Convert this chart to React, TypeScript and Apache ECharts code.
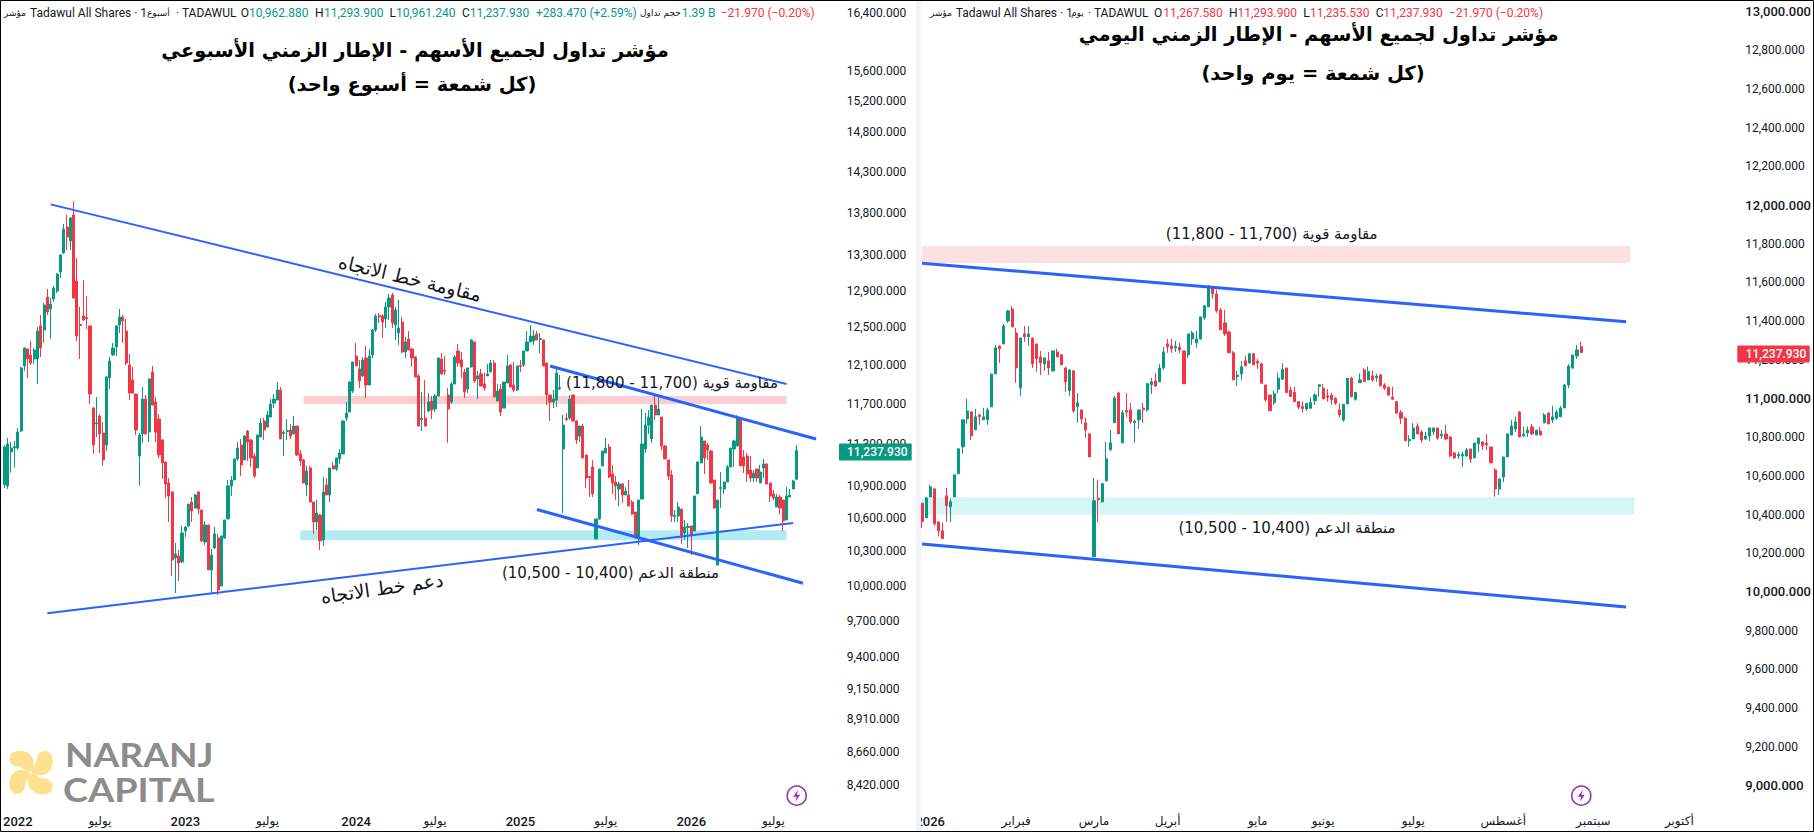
import React, { useEffect, useRef } from "react";
import * as echarts from "echarts";

const GREEN = "#089981";
const RED = "#f23645";
const BLUE = "#2962ff";
const INK = "#131722";
const LATIN = 'Roboto, "DejaVu Sans", sans-serif';
const ARABIC = '"DejaVu Sans", Roboto, sans-serif';

// Candles are [open, close, low, high]
const weeklyCandles: number[][] = [
[10910,11272,10880,11290],[10900,11302,10871,11361],[11224,11262,11025,11321],[11265,11275,11075,11331],[11262,11419,11243,11459],
[11429,12069,11420,12080],[12090,12278,12038,12285],[12268,12162,11965,12275],[12205,12120,12100,12353],[12162,12257,12110,12280],
[12162,12460,11903,12503],[12515,12278,12183,12633],[12471,12743,12332,12765],[12831,12666,12633,12920],[12699,12754,12375,12820],
[12809,12931,12776,12954],[12898,13088,12875,13100],[13111,13305,13044,13317],[13328,13608,13320,13667],[13631,13514,13363,13773],
[13467,13738,13363,13750],[13773,12820,12815,13941],[13010,12407,12353,13270],[12530,12520,12162,12721],[12623,12579,12570,13021],
[12605,12595,12482,12842],[12515,11800,11698,12520],[11658,11292,11205,11668],[11500,11510,11370,11770],[11578,11400,11214,11598],
[11410,11147,11090,11518],[11292,11975,11233,11985],[11965,12142,11851,12183],[12205,12278,12194,12332],[12289,12515,12194,12525],
[12525,12611,12439,12699],[12611,12568,12332,12633],[12460,12120,12100,12590],[12100,11810,11739,12215],[11944,11810,11805,12080],
[11800,11439,11390,11805],[11185,11390,10900,11410],[11400,11749,11312,11872],[11749,11400,11395,11790],[11419,11955,11321,11960],
[12027,11688,11685,12090],[11719,11419,11321,11770],[11548,11195,11166,11598],[11341,11118,10965,11350],[11128,10918,10787,11130],
[10928,10805,10566,10975],[10843,10224,10084,10852],[10242,10277,9937,10376],[10260,10198,10040,10313],[10207,10466,10198,10530],
[10484,10520,10430,10530],[10530,10730,10520,10730],[10749,10666,10566,10796],[10693,10815,10693,10825],[10843,10684,10638,10852],
[10675,10394,10385,10675],[10385,10538,10358,10575],[10538,10137,10137,10538],[10137,10268,9930,10322],[10331,10457,10322,10520],
[10421,9963,9920,10457],[9997,10439,9997,10439],[10421,10584,10412,10584],[10593,10900,10593,10956],[10900,10956,10805,10994],
[10956,11157,10956,11157],[11157,11262,11138,11321],[11292,11099,10994,11351],[11147,11380,11147,11390],[11429,11321,11138,11439],
[11341,11166,11080,11351],[11185,10994,10975,11214],[11070,11390,11070,11390],[11370,11508,11370,11558],[11528,11439,11341,11558],
[11468,11588,11468,11628],[11568,11698,11568,11749],[11708,11749,11658,11800],[11739,11841,11739,11923],[11841,11351,11351,11872],
[11405,11415,11185,11439],[11424,11434,11341,11548],[11439,11380,11351,11498],[11400,11478,11400,11578],[11478,11195,11185,11478],
[11205,11138,11090,11243],[11147,10928,10928,11157],[10909,11041,10805,11090],[11070,10749,10749,11090],[10749,10566,10457,10749],
[10566,10648,10493,10768],[10629,10394,10313,10638],[10403,10843,10349,10984],[10909,10815,10815,10975],[10815,11070,10749,11070],
[11090,11060,11060,11128],[11060,11166,11041,11166],[11157,11214,11109,11253],[11205,11528,11205,11538],[11558,11608,11528,11719],
[11618,11923,11618,11933],[11831,12131,11810,12131],[12194,12090,12090,12332],[12059,11934,11861,12152],[11986,12152,11975,12183],
[12173,11892,11760,12300],[11892,12194,11892,12268],[12205,12471,12173,12482],[12471,12623,12450,12644],[12628,12618,12547,12655],
[12623,12558,12386,12644],[12590,12721,12493,12776],[12721,12820,12579,12865],[12854,12547,12493,12876],[12525,12688,12364,12721],
[12439,12493,12311,12798],[12558,12236,12226,12611],[12236,12343,12173,12397],[12375,12257,12257,12460],[12268,12173,12080,12278],
[12183,11975,11975,12194],[11986,11478,11478,12007],[11543,11553,11429,11820],[11558,11478,11478,11944],[11628,11719,11618,11810],
[11729,11638,11548,11780],[11648,11780,11618,11800],[11780,12173,11780,12173],[12162,12007,11996,12226],[12043,12033,11996,12194],
[11790,11648,11312,11861],[11719,11903,11698,11923],[11903,12183,11903,12205],[12247,12120,12080,12321],[12152,12080,11965,12236],
[12027,11820,11760,12059],[11851,12069,11810,12069],[12080,12364,12069,12375],[12343,11934,11913,12343],[11955,11986,11749,12038],
[12007,11882,11882,12059],[11903,11861,11831,12017],[11986,12007,11986,12110],[12027,12120,12027,12152],[12120,11770,11770,12152],
[11729,11831,11729,11903],[11851,11618,11578,11903],[11658,11923,11658,11923],[11913,12090,11913,12205],[12100,11872,11872,12110],
[11892,11841,11820,12131],[11841,12090,11831,12090],[12095,12085,12027,12152],[12100,12247,12080,12247],[12247,12343,12247,12460],
[12343,12407,12343,12525],[12353,12407,12311,12471],[12428,12364,12364,12460],[12370,12380,12226,12439],[12364,12090,12090,12364],
[12120,11790,11688,12120],[11790,11719,11528,11790],[11719,11749,11658,11841],[11739,12017,11668,12069],[11856,11866,11841,11996],
[11253,11488,10648,11588],[11553,11543,11528,11608],[11558,11749,11538,11790],[11790,11528,11528,11790],[11528,11341,11302,11538],
[11380,11478,11321,11478],[11478,11166,11166,11498],[11195,10975,10881,11195],[10990,10980,10796,10990],[11080,10825,10796,11147],
[10412,10593,10412,10593],[10593,11060,10584,11060],[11090,11233,11090,11233],[11214,11262,11214,11361],[11272,10984,10975,11302],
[11013,10928,10825,11099],[10937,10900,10768,10994],[10871,10918,10712,10937],[10918,10815,10740,10928],[10815,10852,10815,10890],
[10815,10712,10712,10956],[10749,10638,10629,10768],[10657,10421,10412,10657],[10421,10768,10358,10768],[10777,11302,10777,11648],
[11253,11488,11214,11608],[11488,11568,11400,11638],[11351,11688,11312,11688],[11688,11588,11538,11780],[11588,11648,11588,11770],
[11568,11282,11243,11568],[11282,11157,11157,11292],[11147,10994,10956,11147],[11003,10620,10566,11051],[10615,10625,10566,10675],
[10620,10703,10566,10749],[10684,10430,10367,10684],[10466,10520,10403,10584],[10515,10525,10331,10556],[10530,10448,10269,10530],
[10484,10805,10484,10805],[10825,11128,10825,11128],[11118,11370,11118,11478],[11331,11166,11013,11331],[11292,11243,11147,11312],
[11233,10928,10918,11243],[10956,10693,10693,10956],[10180,10768,10180,10768],[10876,10886,10693,11032],[10871,10937,10825,10937],
[10937,11080,10937,11099],[11080,11262,11080,11262],[11253,11331,11080,11341],[11282,11568,11282,11588],[11558,11090,11090,11558],
[11176,11090,11022,11243],[11185,11013,10937,11214],[11051,10975,10937,11185],[10975,11022,10937,11051],[11060,10975,10937,11060],
[10928,11032,10928,11099],[11070,11109,10975,11157],[11109,10918,10918,11109],[10928,10805,10749,10928],[10825,10787,10768,10862],
[10703,10796,10703,10825],[10796,10693,10638,10815],[10768,10575,10484,10768],[10584,10805,10584,10890],[10796,10815,10796,10871],
[10871,10947,10871,10956],[10962.88,11237.93,10961.24,11293.9],
];

const dailyCandles: number[][] = [
[10459,10364,10330,10459],[10383,10486,10383,10490],[10491,10543,10491,10554],[10533,10352,10342,10533],[10362,10316,10287,10362],
[10316,10276,10276,10359],[10497,10445,10362,10538],[10440,10466,10362,10481],[10491,10605,10491,10605],[10611,10740,10611,10740],
[10750,10890,10714,10890],[10895,10936,10869,10998],[10931,10807,10786,10931],[10838,10905,10838,10946],[10915,10905,10864,10921],
[10890,10905,10890,10952],[10890,10941,10864,10952],[10957,11127,10957,11127],[11127,11262,11127,11277],[11272,11257,11184,11272],
[11282,11375,11282,11386],[11401,11453,11391,11458],[11463,11370,11370,11479],[11339,11158,11081,11365],[11055,11313,11014,11313],
[11334,11319,11293,11375],[11319,11334,11272,11375],[11313,11179,11158,11313],[11282,11205,11138,11282],[11215,11184,11122,11246],
[11179,11210,11143,11210],[11195,11158,11122,11241],[11143,11246,11138,11246],[11241,11215,11215,11257],[11226,11174,11174,11226],
[11158,11086,11034,11164],[11040,11148,11014,11148],[11143,10936,10926,11143],[10957,10977,10874,11029],[10941,10895,10869,10941],
[10874,10838,10797,10900],[10817,10698,10698,10822],[10182,10471,10182,10590],[10484,10476,10362,10580],[10466,10559,10461,10564],
[10574,10688,10574,10776],[10735,10771,10729,10838],[10874,11003,10874,11014],[11029,10817,10817,11034],[10771,10926,10771,10941],
[10938,10930,10905,11029],[10941,10879,10869,10977],[10875,10883,10771,10890],[10890,10941,10843,10941],[10950,10942,10874,10977],
[10941,11076,10931,11081],[11071,11086,11024,11107],[11091,11065,11060,11133],[11086,11158,11086,11179],[11158,11241,11148,11267],
[11282,11267,11236,11308],[11272,11257,11236,11308],[11261,11269,11241,11298],[11265,11251,11234,11288],[11246,11076,11076,11246],
[11226,11334,11210,11334],[11308,11339,11277,11350],[11288,11308,11262,11350],[11308,11422,11303,11422],[11417,11479,11407,11484],
[11474,11582,11474,11587],[11577,11541,11515,11577],[11541,11453,11443,11562],[11458,11355,11355,11469],[11391,11334,11324,11458],
[11344,11236,11236,11350],[11236,11096,11096,11246],[11113,11121,11065,11143],[11127,11164,11096,11195],[11195,11169,11169,11220],
[11184,11231,11179,11236],[11231,11174,11174,11236],[11191,11183,11153,11205],[11179,11079,11079,11186],[11070,10993,10984,11070],
[11018,10937,10937,11018],[10979,11024,10967,11041],[11048,11105,11027,11134],[11100,11151,11096,11182],[11158,11030,11030,11158],
[11044,11010,11010,11061],[11032,10984,10984,11061],[10984,10955,10944,10984],[10958,10948,10927,10984],[10946,10975,10937,10975],
[10949,10979,10949,11006],[10989,11018,10967,11027],[11063,11071,11010,11075],[11053,10998,10998,11075],[11014,11006,10984,11048],
[11018,10993,10967,11030],[11001,10975,10967,11006],[10941,10915,10903,10975],[10889,10970,10880,10970],[10972,11105,10972,11105],
[11105,11010,11006,11113],[10996,11032,10989,11032],[11082,11096,11082,11130],[11148,11087,11087,11156],[11096,11139,11096,11165],
[11117,11096,11087,11144],[11107,11115,11087,11127],[11122,11067,11061,11125],[11070,11053,11044,11079],[11058,11018,11013,11061],
[11006,10996,10996,11061],[10984,10924,10924,10984],[10927,10898,10868,10941],[10898,10782,10782,10906],[10781,10789,10751,10811],
[10791,10848,10791,10872],[10858,10817,10817,10872],[10827,10786,10772,10837],[10791,10806,10786,10827],[10806,10848,10780,10848],
[10829,10848,10811,10848],[10848,10796,10786,10848],[10807,10815,10791,10837],[10817,10791,10786,10863],[10801,10703,10698,10806],
[10718,10693,10687,10725],[10703,10711,10687,10724],[10703,10711,10646,10724],[10703,10734,10698,10744],[10739,10687,10667,10739],
[10693,10770,10693,10770],[10765,10796,10724,10796],[10775,10755,10734,10780],[10769,10761,10734,10817],[10749,10667,10667,10749],
[10630,10532,10493,10641],[10532,10584,10501,10584],[10594,10698,10568,10698],[10698,10817,10698,10817],[10811,10858,10811,10889],
[10842,10879,10827,10906],[10930,10801,10801,10935],[10807,10815,10801,10855],[10822,10837,10801,10855],[10853,10817,10811,10868],
[10811,10837,10811,10837],[10832,10811,10811,10853],[10874,10915,10874,10925],[10925,10868,10868,10930],[10889,10905,10874,10962],
[10899,10930,10889,10941],[10905,10951,10905,10962],[10951,11070,10951,11075],[11070,11168,11054,11178],[11158,11225,11153,11225],
[11220,11251,11205,11277],[11267.58,11237.93,11235.53,11293.9],
];

const weeklyPriceTicks = [16400,15600,15200,14800,14300,13800,13300,12900,12500,12100,11700,11300,10900,10600,10300,10000,9700,9400,9150,8910,8660,8420];
const dailyPriceTicks = [13000,12800,12600,12400,12200,12000,11800,11600,11400,11200,11000,10800,10600,10400,10200,10000,9800,9600,9400,9200,9000];
const dailyMajorTicks = [13000,12000,11000,10000,9000];

const weeklyTimeLabels: [number, string][] = [[4,"2022"],[29,"يوليو"],[55,"2023"],[80,"يوليو"],[107,"2024"],[131,"يوليو"],[157,"2025"],[183,"يوليو"],[209,"2026"],[234,"يوليو"]];
const dailyTimeLabels: [number, string][] = [[2,"2026"],[23,"فبراير"],[42,"مارس"],[60,"أبريل"],[82,"مايو"],[98,"يونيو"],[120,"يوليو"],[142,"أغسطس"],[164,"سبتمبر"],[185,"أكتوبر"]];

// Trendlines [index, price, index, price]
const weeklyTrendlines: { from: number[]; to: number[]; width: number }[] = [
  { from: [14, 13900], to: [238, 11903], width: 2 },
  { from: [13, 9765], to: [240, 10556], width: 2 },
  { from: [166, 12089], to: [247, 11350], width: 3 },
  { from: [162, 10680], to: [243, 10021], width: 3 },
];
const dailyTrendlines: { from: number[]; to: number[]; width: number }[] = [
  { from: [0, 11699], to: [172, 11397], width: 3 },
  { from: [0, 10248], to: [172, 9922], width: 3 },
];
const weeklyZones = [
  { from: [91, 11780], to: [238, 11700], color: "#fccdd2" },
  { from: [90, 10490], to: [238, 10400], color: "#b2ebf2" },
];
const dailyZones = [
  { from: [0, 11790], to: [173, 11700], color: "#fde0e4" },
  { from: [0, 10490], to: [174, 10400], color: "#d6f5f7" },
];

const WEEK_BAND = 3.297;
const WEEK_SLOTS = 255;
const DAY_BAND = 4.095;
const DAY_SLOTS = 200;
const PLOT_TOP = 1;
const PLOT_H = 807;

const fmt = (v: number) => v.toLocaleString("en-US", { minimumFractionDigits: 3, maximumFractionDigits: 3 });
const slots = (n: number, labels: [number, string][]) => {
  const m = new Map(labels);
  return Array.from({ length: n }, (_, i) => m.get(i) ?? "");
};

function xAxis(gridIndex: number, data: string[]) {
  return {
    type: "category",
    gridIndex,
    data,
    boundaryGap: true,
    axisLine: { show: false },
    axisTick: { show: false },
    splitLine: { show: false },
    axisLabel: {
      margin: 7,
      interval: (_i: number, v: string) => v !== "",
      formatter: (v: string) => (/^\d+$/.test(v) ? `{year|${v}}` : v),
      color: INK,
      fontSize: 12,
      fontFamily: ARABIC,
      rich: { year: { fontSize: 13, fontWeight: 500, fontFamily: LATIN, color: INK } },
    },
  };
}

function candleSeries(xi: number, data: number[][], map: (v: number) => number, lines: typeof weeklyTrendlines, zones: typeof weeklyZones) {
  return {
    type: "candlestick",
    xAxisIndex: xi,
    yAxisIndex: xi,
    barWidth: 2.6,
    silent: true,
    data: data.map((c) => c.map(map)),
    itemStyle: { color: GREEN, color0: RED, borderColor: GREEN, borderColor0: RED, borderWidth: 1 },
    markLine: {
      silent: true,
      symbol: ["none", "none"],
      label: { show: false },
      data: lines.map((l) => [
        { coord: [l.from[0], map(l.from[1])], lineStyle: { color: BLUE, width: l.width, type: "solid" } },
        { coord: [l.to[0], map(l.to[1])] },
      ]),
    },
    markArea: {
      silent: true,
      label: { show: false },
      data: zones.map((z) => [
        { coord: [z.from[0], map(z.from[1])], itemStyle: { color: z.color, opacity: 1 } },
        { coord: [z.to[0], map(z.to[1])] },
      ]),
    },
  };
}

const label = (text: string, x: number, y: number, fill: string, font: string, align = "left", rotation = 0) => ({
  type: "text",
  x,
  y,
  rotation,
  z: 100,
  silent: true,
  style: { text, fill, font, align, verticalAlign: "middle" },
});

const F12 = `12px ${LATIN}`;
const F9 = `9px ${ARABIC}`;

function headerWeekly() {
  return [
    label("مؤشر", 4, 13, INK, F9),
    label("Tadawul All Shares · 1", 30, 13, INK, F12),
    label("أسبوع", 147, 13, INK, F9),
    label("· TADAWUL", 176, 13, INK, F12),
    label("O", 240.7, 13, INK, F12), label("10,962.880", 249, 13, GREEN, F12),
    label("H", 315, 13, INK, F12), label("11,293.900", 324, 13, GREEN, F12),
    label("L", 389.5, 13, INK, F12), label("10,961.240", 396, 13, GREEN, F12),
    label("C", 462, 13, INK, F12), label("11,237.930", 469.7, 13, GREEN, F12),
    label("+283.470 (+2.59%)", 536, 13, GREEN, F12),
    label("حجم تداول", 640, 13, INK, F9),
    label("1.39 B", 681.7, 13, GREEN, F12),
    label("−21.970 (−0.20%)", 720.7, 13, RED, F12),
  ];
}
function headerDaily() {
  return [
    label("مؤشر", 930, 13, INK, F9),
    label("Tadawul All Shares · 1", 955.7, 13, INK, F12),
    label("يوم", 1071, 13, INK, F9),
    label("· TADAWUL", 1088, 13, INK, F12),
    label("O", 1154, 13, INK, F12), label("11,267.580", 1163.3, 13, RED, F12),
    label("H", 1229, 13, INK, F12), label("11,293.900", 1237.5, 13, RED, F12),
    label("L", 1303.3, 13, INK, F12), label("11,235.530", 1310, 13, RED, F12),
    label("C", 1375.7, 13, INK, F12), label("11,237.930", 1383.3, 13, RED, F12),
    label("−21.970 (−0.20%)", 1449, 13, RED, F12),
  ];
}

function annotations() {
  const title = `bold 19.5px ${ARABIC}`;
  const note = `15px ${ARABIC}`;
  const slanted = `19px ${ARABIC}`;
  return [
    label("مؤشر تداول لجميع الأسهم - الإطار الزمني الأسبوعي", 415, 50, "#000", title, "center"),
    label("(كل شمعة = أسبوع واحد)", 412, 84, "#000", title, "center"),
    label("مؤشر تداول لجميع الأسهم - الإطار الزمني اليومي", 1318.7, 34, "#000", title, "center"),
    label("(كل شمعة = يوم واحد)", 1313, 73, "#000", title, "center"),
    label("مقاومة قوية (11,700 - 11,800)", 672, 383, INK, note, "center"),
    label("منطقة الدعم (10,400 - 10,500)", 610.5, 573, INK, note, "center"),
    label("مقاومة قوية (11,700 - 11,800)", 1271.7, 234, INK, note, "center"),
    label("منطقة الدعم (10,400 - 10,500)", 1287, 528, INK, note, "center"),
    label("مقاومة خط الاتجاه", 410, 278, INK, slanted, "center", -0.235),
    label("دعم خط الاتجاه", 382, 588, INK, slanted, "center", 0.14),
  ];
}

function decorations() {
  const petals = [0, 1, 2, 3].map((k) => ({
    type: "naranjPetal",
    x: 31,
    y: 772.5,
    rotation: (-k * Math.PI) / 2,
    z: 90,
    silent: true,
    style: { fill: "#fde18f" },
  }));
  const bolt = (x: number) => [
    { type: "circle", z: 90, silent: true, shape: { cx: x, cy: 795.7, r: 9.5 }, style: { fill: "#fff", stroke: "#9c27b0", lineWidth: 1.5 } },
    { type: "naranjBolt", x, y: 795.7, z: 91, silent: true, style: { fill: "#9c27b0" } },
  ];
  return [
    { type: "rect", z: 95, silent: true, shape: { x: 916, y: 1, width: 5, height: 830 }, style: { fill: "#f0f3fa" } },
    { type: "rect", z: 110, silent: true, shape: { x: 0.5, y: 0.5, width: 1813, height: 831 }, style: { fill: "none", stroke: "#000", lineWidth: 1 } },
    ...petals,
    { ...label("NARANJ", 65, 755, "#8c8c8c", `bold 32px Lato, ${LATIN}`), scaleX: 1.16 },
    { ...label("CAPITAL", 63, 789, "#8c8c8c", `bold 32px Lato, ${LATIN}`), scaleX: 1.18 },
    ...bolt(796.7),
    ...bolt(1581.3),
  ];
}

function priceTag(value: number, left: number, width: number, textX: number, y: number, color: string) {
  return [
    { type: "rect", z: 120, silent: true, shape: { x: left, y: y - 7, width, height: 17, r: 1 }, style: { fill: color } },
    { ...label(fmt(value), textX, y + 1.5, "#fff", `500 12px ${LATIN}`), z: 121 },
  ];
}

export default function App() {
  const ref = useRef<HTMLDivElement>(null);
  useEffect(() => {
    document.body.style.margin = "0";
    echarts.graphic.registerShape(
      "naranjPetal",
      echarts.graphic.extendPath(
        "M0,-1 C-6,0 -8,-6 -13,-6 C-20,-6 -23,-12 -21,-17 C-18,-23 -7,-23 -2,-19 C4,-15 4,-6 0,-1 Z",
        {}
      )
    );
    echarts.graphic.registerShape(
      "naranjBolt",
      echarts.graphic.extendPath("M1.5,-6 L-3.5,1 L0,1 L-1.5,6 L3.5,-1 L0,-1 Z", {})
    );
    const chart = echarts.init(ref.current!, null, { renderer: "svg" });
    const weekPx = (v: number) => Math.log(v);
    const same = (v: number) => v;
    const weekMaxLog = Math.log(10000) + (585.7 - PLOT_TOP) / 1158;
    const weekMinLog = Math.log(10000) + (585.7 - PLOT_TOP - PLOT_H) / 1158;
    const dayMax = 13000 + (11.7 - PLOT_TOP) / 0.1934;
    const dayMin = 13000 - (PLOT_TOP + PLOT_H - 11.7) / 0.1934;
    const yCommon = {
      type: "value",
      position: "right",
      axisLine: { show: false },
      axisTick: { show: false },
      splitLine: { show: false },
    };
    chart.setOption({
      animation: false,
      backgroundColor: "#ffffff",
      textStyle: { fontFamily: LATIN },
      grid: [
        { left: 0, top: PLOT_TOP, width: WEEK_BAND * WEEK_SLOTS, height: PLOT_H },
        { left: 920, top: PLOT_TOP, width: DAY_BAND * DAY_SLOTS, height: PLOT_H },
      ],
      xAxis: [xAxis(0, slots(WEEK_SLOTS, weeklyTimeLabels)), xAxis(1, slots(DAY_SLOTS, dailyTimeLabels))],
      yAxis: [
        {
          ...yCommon,
          gridIndex: 0,
          min: weekMinLog,
          max: weekMaxLog,
          axisLabel: {
            margin: 6,
            color: INK,
            fontSize: 12,
            fontFamily: LATIN,
            customValues: weeklyPriceTicks.map(weekPx),
            formatter: (v: number) => fmt(Math.round(Math.exp(v))),
          },
        },
        {
          ...yCommon,
          gridIndex: 1,
          min: dayMin,
          max: dayMax,
          axisLabel: {
            margin: 6.7,
            color: INK,
            fontSize: 12,
            fontFamily: LATIN,
            customValues: dailyPriceTicks,
            formatter: (v: number) => (dailyMajorTicks.includes(v) ? `{major|${fmt(v)}}` : fmt(v)),
            rich: { major: { fontSize: 13, fontWeight: 500, color: INK, fontFamily: LATIN } },
          },
        },
      ],
      series: [
        candleSeries(0, weeklyCandles, weekPx, weeklyTrendlines, weeklyZones),
        candleSeries(1, dailyCandles, same, dailyTrendlines, dailyZones),
      ],
    });
    const lastWeek = weeklyCandles[weeklyCandles.length - 1][1];
    const lastDay = dailyCandles[dailyCandles.length - 1][1];
    const yWeek = chart.convertToPixel({ yAxisIndex: 0 }, weekPx(lastWeek)) as number;
    const yDay = chart.convertToPixel({ yAxisIndex: 1 }, lastDay) as number;
    chart.setOption({
      graphic: {
        elements: [
          ...decorations(),
          ...headerWeekly(),
          ...headerDaily(),
          ...annotations(),
          ...priceTag(lastWeek, 839, 72.7, 847, yWeek, GREEN),
          ...priceTag(lastDay, 1737.3, 72.4, 1745.7, yDay, RED),
        ],
      },
    });
    return () => chart.dispose();
  }, []);
  return <div ref={ref} style={{ position: "fixed", left: 0, top: 0, width: 1814, height: 832 }} />;
}
